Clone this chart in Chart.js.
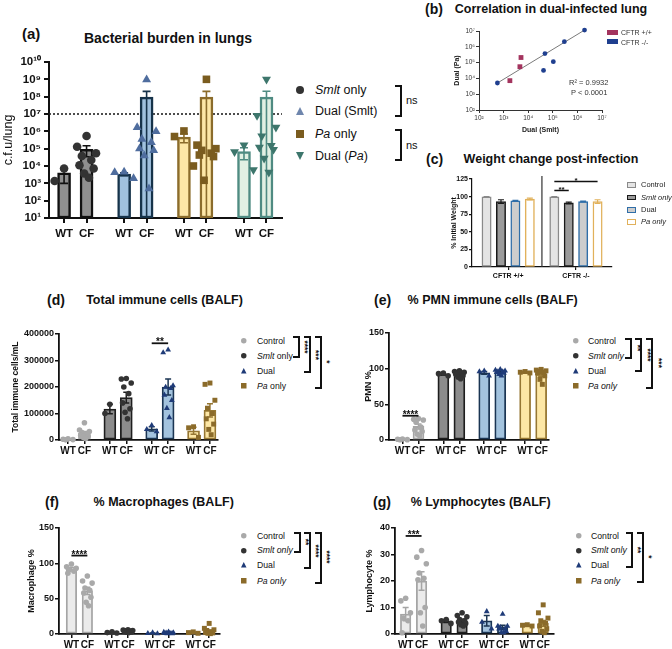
<!DOCTYPE html>
<html><head><meta charset="utf-8">
<script src="https://cdn.jsdelivr.net/npm/chart.js@4"></script>
<style>
html,body{margin:0;padding:0;background:#fff;}
#root{position:relative;width:672px;height:649px;overflow:hidden;font-family:'Liberation Sans',Arial,Helvetica,sans-serif;color:#111;}
canvas{position:absolute;}
.t{position:absolute;white-space:nowrap;line-height:1;}
.br{position:absolute;border:2px solid #111;border-left:none;box-sizing:border-box;}
svg{position:absolute;overflow:visible;}
</style></head><body><div id="root"></div>
<script>
// ===================== DATA =====================
// (a) Bacterial burden in lungs (c.f.u/lung), order: WT, CF for each group
const burdenGroups = ['Smlt only', 'Dual (Smlt)', 'Pa only', 'Dual (Pa)'];
const genotypes = ['WT', 'CF'];
const burdenMean = [4.0e3, 9.1e4, 3.4e3, 9.5e7, 4.6e5, 9.5e7, 6.8e4, 9.5e7];
const burdenSem = [3.0e3, 5.7e4, 6.0e2, 1.07e8, 2.4e5, 1.07e8, 4.5e4, 1.1e8];
const burdenSmltWT = [7.2e3, 1.35e3];
const burdenSmltCF = [5.4e5, 1.3e5, 5.4e4, 3.8e4, 2.2e4, 1.1e4, 7.2e3, 3.7e3, 2.1e3];
const burdenDualSmltWT = [4.5e3, 4.2e3, 1.9e3];
const burdenDualSmltCF = [9.5e8, 1.7e6, 1.0e6, 3.5e5, 2.3e5, 1.0e5, 8.0e4, 4.0e4, 5.0e2];
const burdenPaWT = [1.05e6, 5.0e5, 1.0e4];
const burdenPaCF = [1.0e9, 1.6e5, 1.0e5, 8.0e4, 5.5e4, 4.3e4, 3.5e4, 1.5e3];
const burdenDualPaWT = [1.6e5, 6.5e4, 6.0e3];
const burdenDualPaCF = [1.0e9, 8.0e6, 1.7e6, 5.4e5, 1.5e5, 1.2e5, 9.0e4, 2.8e4, 4.3e3];
const burdenTicks = [1e1, 1e2, 1e3, 1e4, 1e5, 1e6, 1e7, 1e8, 1e9, 1e10];
const detectionLimit = 1e7;

// (b) Correlation in dual-infected lung
const corrWTSmlt = [1.8e3, 4.6e3, 5.1e3];
const corrWTPa = [7.2e3, 5.5e4, 2.1e5];
const corrKOSmlt = [5.6e2, 4.2e4, 4.8e4, 1.05e5, 2.95e5, 1.95e6];
const corrKOPa = [5.1e3, 3.2e4, 3.7e5, 1.15e5, 2.1e6, 1.15e7];
const corrSlope = 0.946, corrIntercept = 1.108;   // log10 fit
const corrTicks = [1e2, 1e3, 1e4, 1e5, 1e6, 1e7];

// (c) Weight change post-infection (% initial weight)
const weightGenotypes = ['CFTR +/+', 'CFTR -/-'];
const treatGroups = ['Control', 'Smlt only', 'Dual', 'Pa only'];
const weightMean = [99.5, 93, 94, 96.5, 99.5, 91, 93, 93];   // +/+ x4 then -/- x4
const weightSem = [0.6, 2.5, 0.6, 1.2, 0.6, 1.2, 0.6, 2.5];

// (d) Total immune cells (BALF) per mL, order WT,CF per treatment group
const totalMean = [3000, 25000, 117000, 160000, 42000, 200000, 35000, 112000];
const totalSem = [1000, 7000, 18000, 20000, 8000, 30000, 13000, 25000];
const totalPoints = [
  [5000, 3000, 1500, 500],
  [65000, 38000, 32000, 28000, 22000, 18000, 14000, 10000, 6000],
  [135000, 100000],
  [232000, 230000, 215000, 200000, 175000, 140000, 118000, 105000, 80000],
  [55000, 40000, 32000],
  [340000, 330000, 205000, 200000, 195000, 170000, 150000, 120000, 85000],
  [50000, 46000, 10000],
  [215000, 210000, 150000, 120000, 100000, 80000, 60000, 40000, 20000]];

// (e) % PMN
const pmnMean = [1, 19, 92, 92, 94, 95, 95, 92];
const pmnSem = [0.3, 3.5, 1, 1.2, 2, 1, 0.7, 2.5];
const pmnPoints = [
  [1.5, 1, 0.5, 0.3],
  [30, 29, 28, 25, 18, 14, 12, 8, 6],
  [94, 93, 90],
  [97, 96, 95, 94, 93, 92, 90, 88, 86],
  [97, 96, 90],
  [99, 98, 97, 96, 96, 95, 94, 92, 90],
  [96, 95, 94],
  [99, 98, 97, 96, 95, 94, 90, 85, 78]];

// (f) % Macrophages
const macroMean = [92, 61, 2, 4, 1, 1.5, 2, 4];
const macroSem = [2, 5, 0.5, 0.7, 0.5, 0.4, 0.7, 1.6];
const macroPoints = [
  [99, 95, 93, 91, 89, 86],
  [82, 75, 72, 65, 62, 58, 52, 45, 40],
  [3, 2, 1.5],
  [6, 5.5, 5, 4.5, 4, 3.5, 3, 2.5, 2],
  [2, 1, 0.5],
  [3, 2.5, 2, 1.5, 1, 1, 0.5, 0.5, 1],
  [3, 2, 1],
  [15, 8, 6, 5, 3, 2, 1.5, 1, 0.5]];

// (g) % Lymphocytes
const lymphMean = [7.5, 20, 4.8, 5, 5, 2.5, 3.2, 4];
const lymphSem = [2.5, 3.5, 0.5, 0.6, 2, 0.8, 0.2, 1.1];
const lymphPoints = [
  [13.5, 12.5, 8, 6, 5, 0.5],
  [31.5, 29, 26.5, 23, 21, 20.5, 10, 8, 3],
  [5.5, 5, 4],
  [8, 7, 6.5, 5.5, 5, 4.5, 4, 3.5, 3],
  [8.5, 4.5, 2],
  [7.5, 3, 3, 2.5, 2, 2, 1, 0.5, 0.5],
  [3.5, 3.3, 3],
  [11, 8, 6, 5, 4, 3, 2, 1, 0.5]];

// ===================== HELPERS =====================
const FONT = "'Liberation Sans', Arial, Helvetica, sans-serif";
Chart.defaults.font.family = FONT;
Chart.defaults.color = '#111';
const root = document.getElementById('root');
const JIT = [0, -1, 1, -0.5, 0.5, -0.75, 0.75, -0.25, 0.25];
const SUP = {'0':'⁰','1':'¹','2':'²','3':'³','4':'⁴','5':'⁵','6':'⁶','7':'⁷','8':'⁸','9':'⁹'};
const pow10 = v => '10' + String(Math.round(Math.log10(v))).split('').map(c => SUP[c]).join('');

function T(x, y, html, css, anchor, rot) {
  const d = document.createElement('div');
  d.className = 't'; d.innerHTML = html; d.style.cssText += css || '';
  d.style.left = x + 'px'; d.style.top = y + 'px';
  const tx = anchor === 'c' ? '-50%' : anchor === 'r' ? '-100%' : '0';
  d.style.transform = `translate(${tx},-50%)` + (rot ? ` rotate(${rot}deg)` : '');
  root.appendChild(d); return d;
}
function bracket(x, y1, y2, cap) {
  const d = document.createElement('div'); d.className = 'br';
  d.style.left = (x - cap) + 'px'; d.style.top = y1 + 'px';
  d.style.width = (cap + 1) + 'px'; d.style.height = (y2 - y1) + 'px';
  root.appendChild(d);
}
function marker(x, y, shape, color, s) {
  const ns = 'http://www.w3.org/2000/svg';
  const sv = document.createElementNS(ns, 'svg');
  sv.setAttribute('width', s); sv.setAttribute('height', s);
  sv.style.left = (x - s / 2) + 'px'; sv.style.top = (y - s / 2) + 'px';
  let el;
  if (shape === 'circle') { el = document.createElementNS(ns, 'circle'); el.setAttribute('cx', s/2); el.setAttribute('cy', s/2); el.setAttribute('r', s/2); }
  else if (shape === 'rect') { el = document.createElementNS(ns, 'rect'); el.setAttribute('width', s); el.setAttribute('height', s); }
  else if (shape === 'tri') { el = document.createElementNS(ns, 'polygon'); el.setAttribute('points', `${s/2},0 ${s},${s} 0,${s}`); }
  else { el = document.createElementNS(ns, 'polygon'); el.setAttribute('points', `0,0 ${s},0 ${s/2},${s}`); }
  el.setAttribute('fill', color); sv.appendChild(el); root.appendChild(sv);
}
function boxKey(x, y, w, h, fill, border) {
  const d = document.createElement('div');
  d.style.cssText = `position:absolute;left:${x}px;top:${y - h/2}px;width:${w}px;height:${h}px;background:${fill};border:1.2px solid ${border};box-sizing:border-box;`;
  root.appendChild(d);
}
function mkCanvas(p, yw, xh, pt, pr) {
  const g = {x: p.L - yw, y: p.T - pt, w: p.R + pr - p.L + yw, h: p.B + xh - p.T + pt};
  const c = document.createElement('canvas');
  c.width = g.w; c.height = g.h;
  c.style.left = g.x + 'px'; c.style.top = g.y + 'px';
  c.style.width = g.w + 'px'; c.style.height = g.h + 'px';
  root.appendChild(c); return c;
}

const errPlugin = {id: 'err', afterDatasetDraw(chart, args) {
  const ds = chart.data.datasets[args.index]; if (!ds.sem) return;
  const ys = chart.scales.y, ctx = chart.ctx;
  ctx.save(); ctx.strokeStyle = ds.errColor; ctx.lineWidth = ds.errW;
  args.meta.data.forEach((el, i) => {
    const m = ds.data[i].y, s = ds.sem[i];
    const yt = ys.getPixelForValue(m + s);
    let lo = m - s, clamped = false;
    if (lo <= ys.min) { lo = ys.min; clamped = true; }
    const yb = ys.getPixelForValue(lo);
    ctx.beginPath();
    ctx.moveTo(el.x, yt); ctx.lineTo(el.x, yb);
    ctx.moveTo(el.x - ds.capW, yt); ctx.lineTo(el.x + ds.capW, yt);
    if (!clamped) { ctx.moveTo(el.x - ds.capW, yb); ctx.lineTo(el.x + ds.capW, yb); }
    ctx.stroke();
  });
  ctx.restore();
}};
const sigPlugin = {id: 'sig', afterDatasetsDraw(chart, args, opts) {
  if (!opts || !opts.items || !opts.items.length) return;
  const ctx = chart.ctx, xs = chart.scales.x, ys = chart.scales.y;
  ctx.save();
  opts.items.forEach(it => {
    const x1 = xs.getPixelForValue(it.x1), x2 = xs.getPixelForValue(it.x2), y = ys.getPixelForValue(it.y);
    ctx.strokeStyle = '#111'; ctx.lineWidth = opts.lw;
    ctx.beginPath(); ctx.moveTo(x1, y); ctx.lineTo(x2, y); ctx.stroke();
    ctx.fillStyle = '#111'; ctx.font = opts.font; ctx.textAlign = 'center'; ctx.textBaseline = 'alphabetic';
    ctx.fillText(it.text, (x1 + x2) / 2, y + opts.dy);
  });
  ctx.restore();
}};
const linesPlugin = {id: 'lines', beforeDatasetsDraw(chart, args, opts) {
  if (!opts) return;
  const ctx = chart.ctx, a = chart.chartArea;
  ctx.save();
  if (opts.h !== undefined) {
    const y = chart.scales.y.getPixelForValue(opts.h);
    ctx.strokeStyle = '#222'; ctx.lineWidth = 1.6; ctx.setLineDash([2, 2]);
    ctx.beginPath(); ctx.moveTo(a.left, y); ctx.lineTo(a.right, y); ctx.stroke();
  }
  if (opts.v !== undefined) {
    const x = chart.scales.x.getPixelForValue(opts.v);
    ctx.strokeStyle = '#333'; ctx.lineWidth = 1.2; ctx.setLineDash([]);
    ctx.beginPath(); ctx.moveTo(x, a.top - 3); ctx.lineTo(x, a.bottom); ctx.stroke();
  }
  ctx.restore();
}};

function xAxis(o) {
  return {type: 'linear', min: o.min, max: o.max, offset: false,
    afterFit(s) { s.height = o.h; },
    afterBuildTicks(s) { s.ticks = o.ticks.map(v => ({value: v})); },
    ticks: {autoSkip: false, maxRotation: 0, minRotation: 0, font: o.font, color: '#111', padding: o.pad, callback: (v, i) => o.labels[i]},
    grid: {display: true, drawOnChartArea: false, drawTicks: true, tickLength: o.tl, color: '#111', lineWidth: o.lw, offset: false},
    border: {display: true, color: '#111', width: o.bw},
    title: o.title ? {display: true, text: o.title, font: o.tfont, color: '#111', padding: {top: 0, bottom: 0}} : {display: false}};
}
function yAxis(o) {
  const ax = {type: o.type || 'linear', min: o.min, max: o.max,
    afterFit(s) { s.width = o.w; },
    ticks: {autoSkip: false, font: o.font, color: o.color || '#111', padding: o.pad},
    grid: {display: true, drawOnChartArea: false, drawTicks: true, tickLength: o.tl, color: '#111', lineWidth: o.lw},
    border: {display: true, color: '#111', width: o.bw},
    title: {display: true, text: o.title, font: o.tfont, color: '#111', padding: {top: 0, bottom: 0}}};
  if (o.step) { ax.ticks.stepSize = o.step; ax.ticks.callback = v => String(v); }
  if (o.ticks) { ax.afterBuildTicks = s => { s.ticks = o.ticks.map(v => ({value: v})); }; ax.ticks.callback = v => pow10(v); }
  return ax;
}

function barChart(o) {
  const cv = mkCanvas(o.plot, o.yw, o.xh, 12, 10);
  const ds = [];
  o.barSets.forEach(b => ds.push({type: 'bar', data: b.pos.map((p, k) => ({x: p, y: b.vals[k]})),
    backgroundColor: b.st.fill, borderColor: b.st.border, borderWidth: o.bw, borderSkipped: false,
    grouped: false, maxBarThickness: o.barW, barPercentage: 1, categoryPercentage: 1, order: 2,
    sem: b.sems, errColor: b.st.err || b.st.border, errW: o.ew, capW: o.capW}));
  (o.pointSets || []).forEach(p => {
    const pts = [];
    p.pos.forEach((x0, k) => p.pts[k].forEach((v, i) => pts.push({x: x0 + JIT[i % JIT.length] * o.spread, y: v})));
    const r = o.pr * (p.st.shape === 'rect' ? 1.25 : p.st.shape === 'triangle' ? 1.2 : 1);
    ds.push({type: 'scatter', data: pts, pointStyle: p.st.shape, rotation: p.st.rot || 0, pointRadius: r, pointHoverRadius: r,
      backgroundColor: p.st.pt, borderColor: p.st.pt, borderWidth: 0, order: 1, clip: false});
  });
  return new Chart(cv, {type: 'bar', data: {datasets: ds},
    options: {responsive: false, animation: false, events: [],
      layout: {padding: {left: 0, top: 12, right: 10, bottom: 0}},
      plugins: {legend: {display: false}, tooltip: {enabled: false},
        sig: o.sig || {}, lines: o.lines || {}},
      scales: {x: xAxis(o.x), y: yAxis(o.y)}},
    plugins: [linesPlugin, errPlugin, sigPlugin]});
}

function groupedSets(xpos, means, sems, points, styles) {
  const barSets = [], pointSets = [];
  styles.forEach((st, g) => {
    const pos = [xpos[2*g], xpos[2*g+1]];
    barSets.push({pos, vals: [means[2*g], means[2*g+1]], sems: [sems[2*g], sems[2*g+1]], st});
    pointSets.push({pos, pts: [points[2*g], points[2*g+1]], st});
  });
  return {barSets, pointSets};
}

// ===================== STYLES =====================
const stylesA = [
  {fill: '#8f8f8f', border: '#111111', pt: '#333333', shape: 'circle'},
  {fill: '#a0c1de', border: '#16334a', pt: '#4f6d9e', shape: 'triangle'},
  {fill: '#fde7a6', border: '#8b6c2b', pt: '#7a5c1f', shape: 'rect'},
  {fill: '#e2f0e3', border: '#4f8b82', pt: '#3d766c', shape: 'triangle', rot: 180}];
const stylesT = [
  {fill: '#ebebeb', border: '#a5a5a5', pt: '#a9a9a9', shape: 'circle'},
  {fill: '#8c8c8c', border: '#1e1e1e', pt: '#333333', shape: 'circle'},
  {fill: '#a3c3de', border: '#1b3553', pt: '#1f3b78', shape: 'triangle'},
  {fill: '#fde7a5', border: '#967733', pt: '#8b6b2a', shape: 'rect'}];
const stylesW = [
  {fill: '#e4e4e4', border: '#8a8a8a'},
  {fill: '#9b9b9b', border: '#1a1a1a'},
  {fill: '#cdcdcd', border: '#2f6ea8'},
  {fill: '#ffffff', border: '#e1b15b'}];

const bold = s => `bold ${s}px ${FONT}`;
const fnt = (s, w) => ({family: FONT, size: s, weight: w || 'bold'});

// ===================== (a) =====================
{
  const xpos = [0, 1, 2.67, 3.67, 5.33, 6.33, 8, 9];
  const pts = [burdenSmltWT, burdenSmltCF, burdenDualSmltWT, burdenDualSmltCF, burdenPaWT, burdenPaCF, burdenDualPaWT, burdenDualPaCF];
  const sets = groupedSets(xpos, burdenMean, burdenSem, pts, stylesA);
  barChart({plot: {L: 49, T: 62, R: 282, B: 218}, yw: 48, xh: 30, ...sets,
    bw: 2.5, barW: 13, ew: 1.6, capW: 4, pr: 4.3, spread: 0.42,
    lines: {h: detectionLimit},
    x: {min: -0.67, max: 9.69, h: 30, ticks: xpos, labels: xpos.map((_, i) => genotypes[i % 2]), font: fnt(11.5), pad: 4, tl: 5, lw: 2, bw: 2},
    y: {type: 'logarithmic', min: 10, max: 1e10, ticks: burdenTicks, w: 48, font: fnt(11.5), pad: 3, tl: 5, lw: 2, bw: 2,
        title: 'c.f.u/lung', tfont: fnt(12.5, 'normal')}});
  T(22, 33, '(a)', 'font-weight:bold;font-size:15px;');
  T(168, 38, 'Bacterial burden in lungs', 'font-weight:bold;font-size:14px;', 'c');
  const lx = 300, tx = 315, rows = [90, 111, 134, 156];
  const lab = ['<i>Smlt</i> only', 'Dual (Smlt)', '<i>Pa</i> only', 'Dual (<i>Pa</i>)'];
  const mk = [['circle', '#333333'], ['tri', '#6f86ad'], ['rect', '#7a5c1f'], ['dtri', '#3d766c']];
  rows.forEach((y, i) => { marker(lx, y, mk[i][0], mk[i][1], 8); T(tx, y, lab[i], 'font-size:12.5px;'); });
  bracket(401, 85, 117, 6); T(406, 100, 'ns', 'font-size:11px;');
  bracket(401, 129, 161, 6); T(406, 145, 'ns', 'font-size:11px;');
}

// ===================== (b) =====================
{
  const cv = mkCanvas({L: 479, T: 31, R: 602, B: 110}, 26, 24, 10, 10);
  const fitX = [Math.min(...corrWTSmlt, ...corrKOSmlt), Math.max(...corrWTSmlt, ...corrKOSmlt)];
  const fit = fitX.map(x => ({x, y: Math.pow(10, corrIntercept + corrSlope * Math.log10(x))}));
  new Chart(cv, {type: 'scatter', data: {datasets: [
    {type: 'line', data: fit, borderColor: '#7a7a7a', borderWidth: 1, pointRadius: 0, order: 3, clip: false},
    {label: 'CFTR +/+', data: corrWTSmlt.map((x, i) => ({x, y: corrWTPa[i]})), pointStyle: 'rect', pointRadius: 3.4, backgroundColor: '#a3345e', borderWidth: 0, order: 1, clip: false},
    {label: 'CFTR -/-', data: corrKOSmlt.map((x, i) => ({x, y: corrKOPa[i]})), pointStyle: 'circle', pointRadius: 2.4, backgroundColor: '#1f3f8f', borderWidth: 0, order: 2, clip: false}]},
    options: {responsive: false, animation: false, events: [],
      layout: {padding: {left: 0, top: 10, right: 10, bottom: 0}},
      plugins: {legend: {display: false}, tooltip: {enabled: false}},
      scales: {
        x: {type: 'logarithmic', min: 1e2, max: 1e7, afterFit(s) { s.height = 24; },
          afterBuildTicks(s) { s.ticks = corrTicks.map(v => ({value: v})); },
          ticks: {autoSkip: false, maxRotation: 0, font: fnt(6.5, 'normal'), color: '#333', padding: 1, callback: v => pow10(v)},
          grid: {drawOnChartArea: false, tickLength: 3, color: '#333', lineWidth: 1}, border: {color: '#333', width: 1},
          title: {display: true, text: 'Dual (Smlt)', font: fnt(7), color: '#222', padding: {top: 0, bottom: 0}}},
        y: {type: 'logarithmic', min: 1e2, max: 1e7, afterFit(s) { s.width = 26; },
          afterBuildTicks(s) { s.ticks = corrTicks.map(v => ({value: v})); },
          ticks: {autoSkip: false, font: fnt(6.5, 'normal'), color: '#333', padding: 1, callback: v => pow10(v)},
          grid: {drawOnChartArea: false, tickLength: 3, color: '#333', lineWidth: 1}, border: {color: '#333', width: 1},
          title: {display: true, text: 'Dual (Pa)', font: fnt(7), color: '#222', padding: {top: 0, bottom: 0}}}}}});
  T(425, 9, '(b)', 'font-weight:bold;font-size:14px;');
  T(551, 9, 'Correlation in dual-infected lung', 'font-weight:bold;font-size:12.5px;', 'c');
  T(569, 83, 'R² = 0.9932', 'font-size:7.5px;color:#333;');
  T(571, 93, 'P &lt; 0.0001', 'font-size:7.5px;color:#333;');
  boxKey(607, 32, 11, 5, '#a3345e', '#a3345e'); T(621, 32, 'CFTR +/+', 'font-size:7px;color:#333;');
  boxKey(607, 41.5, 11, 5, '#1f3f8f', '#1f3f8f'); T(621, 41.5, 'CFTR -/-', 'font-size:7px;color:#333;');
}

// ===================== (c) =====================
{
  const barSets = stylesW.map((st, g) => ({pos: [g, 4.7 + g], vals: [weightMean[g], weightMean[4 + g]], sems: [weightSem[g], weightSem[4 + g]], st}));
  barChart({plot: {L: 472, T: 179, R: 612, B: 267}, yw: 22, xh: 15, barSets,
    bw: 1.5, barW: 9.3, ew: 1.2, capW: 3, pr: 0, spread: 0,
    lines: {v: 3.84},
    sig: {items: [{x1: 4.7, x2: 5.7, y: 108.7, text: '**'}, {x1: 4.7, x2: 7.7, y: 121.6, text: '*'}], font: bold(8), lw: 1.5, dy: 2},
    x: {min: -1.01, max: 8.7, h: 15, ticks: [1.5, 6.2], labels: weightGenotypes, font: fnt(7), pad: 2, tl: 3, lw: 1.2, bw: 1.2},
    y: {min: 0, max: 125, step: 25, w: 22, font: fnt(7), pad: 1, tl: 3, lw: 1.2, bw: 1.2, title: '% Initial Weight', tfont: fnt(7)}});
  T(426, 159, '(c)', 'font-weight:bold;font-size:14px;');
  T(551, 159, 'Weight change post-infection', 'font-weight:bold;font-size:12.5px;', 'c');
  const labs = ['Control', '<i>Smlt only</i>', 'Dual', '<i>Pa only</i>'];
  [185, 197.5, 210, 222].forEach((y, i) => { boxKey(627, y, 9, 5.5, stylesW[i].fill, stylesW[i].border); T(641, y, labs[i], 'font-size:7.5px;color:#222;'); });
}

// ===================== (d)-(g) =====================
const xposT = [0, 1, 2.55, 3.55, 5.1, 6.1, 7.65, 8.65];
function treatLegend(mx, tx, rows, italicAll) {
  const labs = italicAll ? ['Control', '<i>Smlt only</i>', 'Dual', '<i>Pa only</i>'] : ['Control', '<i>Smlt</i> only', 'Dual', '<i>Pa</i> only'];
  const mk = [['circle', '#a9a9a9'], ['circle', '#333333'], ['tri', '#1f3b78'], ['rect', '#8b6b2a']];
  rows.forEach((y, i) => { marker(mx, y, mk[i][0], mk[i][1], 5.5); T(tx, y, labs[i], 'font-size:8.7px;'); });
}
function stars(x, y, s) { T(x, y, s, 'font-weight:bold;font-size:8.5px;', 'c', 90); }
function treatPanel(o) {
  const sets = groupedSets(xposT, o.mean, o.sem, o.points, stylesT);
  barChart({plot: o.plot, yw: o.yw, xh: 22, ...sets,
    bw: 1.8, barW: o.barW, ew: 1.5, capW: 3, pr: 2.8, spread: 0.3,
    sig: {items: [o.sig], font: bold(10), lw: 1.8, dy: 2},
    x: {min: o.xmin, max: o.xmax, h: 22, ticks: xposT, labels: xposT.map((_, i) => genotypes[i % 2]), font: fnt(10), pad: 1, tl: 4, lw: 1.5, bw: 1.8},
    y: {min: 0, max: o.max, step: o.step, w: o.yw, font: fnt(9), pad: 1, tl: 4, lw: 1.5, bw: 1.8, title: o.title, tfont: fnt(o.tsize)}});
}

treatPanel({plot: {L: 59, T: 334, R: 218, B: 440}, yw: 48, barW: 12, xmin: -0.55, xmax: 9.14,
  mean: totalMean, sem: totalSem, points: totalPoints, max: 400000, step: 100000,
  title: 'Total immune cells/mL', tsize: 8.5, sig: {x1: 5.1, x2: 6.1, y: 365000, text: '**'}});
T(47, 300, '(d)', 'font-weight:bold;font-size:14px;');
T(164.5, 300, 'Total immune cells (BALF)', 'font-weight:bold;font-size:12.5px;', 'c');
treatLegend(244, 257, [341, 356, 371, 386], false);
bracket(299, 336, 358, 6); stars(305, 347, '****');
bracket(310, 336, 373, 6); stars(316, 355, '***');
bracket(321, 336, 389, 6); stars(327, 362, '*');

treatPanel({plot: {L: 389, T: 333, R: 549, B: 440}, yw: 26, barW: 11, xmin: -0.84, xmax: 9.14,
  mean: pmnMean, sem: pmnSem, points: pmnPoints, max: 150, step: 50,
  title: 'PMN %', tsize: 9, sig: {x1: 0, x2: 1, y: 34, text: '****'}});
T(374, 300, '(e)', 'font-weight:bold;font-size:14px;');
T(492.7, 300, '% PMN immune cells (BALF)', 'font-weight:bold;font-size:12.5px;', 'c');
treatLegend(576, 588, [341, 356, 371, 386], true);
bracket(631, 338, 359, 6); stars(637.5, 348, '**');
bracket(641, 338, 372, 6); stars(647.5, 355, '****');
bracket(652, 338, 389, 6); stars(658.5, 363, '***');

treatPanel({plot: {L: 59, T: 528, R: 220, B: 634}, yw: 33, barW: 10.5, xmin: -0.78, xmax: 9.33,
  mean: macroMean, sem: macroSem, points: macroPoints, max: 150, step: 50,
  title: 'Macrophage %', tsize: 9, sig: {x1: 0, x2: 1, y: 111, text: '****'}});
T(45, 502, '(f)', 'font-weight:bold;font-size:14px;');
T(163.7, 502, '% Macrophages (BALF)', 'font-weight:bold;font-size:12.5px;', 'c');
treatLegend(244, 257, [535.7, 550.3, 565, 581], true);
bracket(300, 532, 553, 6); stars(305.5, 542, '**');
bracket(310, 532, 569, 6); stars(316, 551, '****');
bracket(321, 532, 584, 6); stars(327, 557, '****');

treatPanel({plot: {L: 395, T: 528, R: 554, B: 634}, yw: 31, barW: 10.5, xmin: -0.67, xmax: 9.33,
  mean: lymphMean, sem: lymphSem, points: lymphPoints, max: 40, step: 10,
  title: 'Lymphocyte %', tsize: 9, sig: {x1: 0, x2: 1, y: 37, text: '***'}});
T(373, 502, '(g)', 'font-weight:bold;font-size:14px;');
T(480.7, 502, '% Lymphocytes (BALF)', 'font-weight:bold;font-size:12.5px;', 'c');
treatLegend(578.7, 591, [535.7, 550.3, 565, 581], true);
bracket(632, 532, 568, 6); stars(638, 550, '**');
bracket(643, 532, 583, 6); stars(649, 557, '*');
</script></body></html>
